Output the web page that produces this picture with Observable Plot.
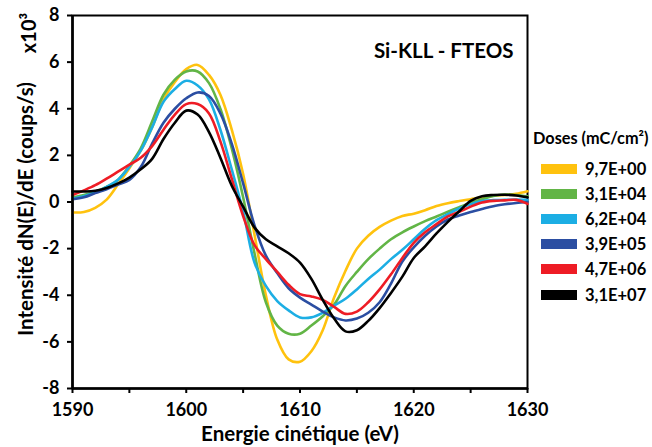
<!DOCTYPE html>
<html>
<head>
<meta charset="utf-8">
<script src="https://cdn.jsdelivr.net/npm/d3@7"></script>
<script src="https://cdn.jsdelivr.net/npm/@observablehq/plot@0.6"></script>
<style>
  html, body { margin: 0; padding: 0; background: #fff; }
  #wrap { position: relative; width: 652px; height: 447px; font-family: Lato, "Open Sans", sans-serif; font-weight: bold; color: #000; }
  #wrap svg { position: absolute; left: 0; top: 0; }
  .rot { position: absolute; white-space: nowrap; transform: translate(-50%, -50%) rotate(-90deg); }
  #ylabel { left: 25px; top: 209px; font-size: 20.5px; }
  #yunit { left: 28px; top: 33px; font-size: 20px; }
  #legend { position: absolute; left: 533px; top: 128px; }
  #legend .title { font-size: 16.3px; margin-bottom: 9px; white-space: nowrap; }
  #legend .item { display: flex; align-items: center; height: 25.2px; margin-left: 8px; font-size: 16.5px; }
  #legend .sw { width: 36px; height: 10px; margin-right: 8px; }
</style>
</head>
<body>
<div id="wrap"><div id="ylabel" class="rot"></div><div id="yunit" class="rot"></div><div id="legend"></div></div>
<script>
const energy = d3.range(1590, 1631, 1);
const doses = ["9,7E+00", "3,1E+04", "6,2E+04", "3,9E+05", "4,7E+06", "3,1E+07"];
const colors = ["#FFC20E", "#62B546", "#1CAEE4", "#2B4EA2", "#EE1C25", "#000000"];
const xTicks = [1590, 1600, 1610, 1620, 1630];
const yTicks = [-8, -6, -4, -2, 0, 2, 4, 6, 8];
const title = "Si-KLL - FTEOS";
const xLabel = "Energie cinétique (eV)";
const yLabel = "Intensité dN(E)/dE (coups/s)";
const yUnit = "x10³";
const legendTitle = "Doses (mC/cm²)";

const s97E00 = [-0.45,-0.43,-0.25,0.1,0.75,1.45,2.2,3.2,4.4,5.15,5.7,5.88,5.45,4.6,3.1,1.2,-1.4,-4.0,-5.9,-6.75,-6.85,-6.4,-5.5,-4.1,-2.95,-2.0,-1.45,-1.07,-0.8,-0.6,-0.5,-0.35,-0.17,-0.05,0.04,0.12,0.2,0.27,0.3,0.35,0.46];
const s31E04 = [0.2,0.3,0.45,0.65,0.95,1.55,2.3,3.45,4.6,5.25,5.6,5.6,5.1,4.0,2.3,0.2,-2.2,-4.3,-5.3,-5.65,-5.65,-5.3,-4.9,-4.4,-3.6,-3.0,-2.45,-2.0,-1.6,-1.3,-1.05,-0.82,-0.62,-0.42,-0.22,-0.03,0.12,0.26,0.32,0.3,0.24];
const s62E04 = [0.15,0.25,0.42,0.65,0.95,1.5,2.2,3.2,4.3,4.85,5.2,5.0,4.4,3.1,1.4,-0.4,-2.6,-3.6,-4.25,-4.65,-4.95,-4.95,-4.75,-4.45,-4.15,-3.75,-3.3,-2.9,-2.45,-2.05,-1.6,-1.15,-0.78,-0.52,-0.28,-0.1,0.04,0.08,0.09,0.1,0.09];
const s39E05 = [0.12,0.2,0.38,0.55,0.75,0.95,1.5,2.5,3.4,4.0,4.45,4.7,4.55,3.8,2.5,0.8,-1.0,-2.3,-3.05,-3.7,-4.1,-4.4,-4.7,-4.95,-5.08,-5.0,-4.75,-4.3,-3.5,-2.55,-1.95,-1.45,-1.05,-0.75,-0.58,-0.43,-0.3,-0.18,-0.1,-0.04,0.0];
const s47E06 = [0.3,0.5,0.72,1.0,1.3,1.6,1.9,2.4,3.1,3.75,4.2,4.2,3.8,2.6,1.0,-0.6,-1.85,-2.45,-3.0,-3.55,-3.95,-4.05,-4.2,-4.5,-4.8,-4.7,-4.3,-3.75,-3.1,-2.4,-1.75,-1.3,-0.95,-0.62,-0.42,-0.2,-0.02,0.05,0.07,0.09,-0.08];
const s31E07 = [0.45,0.45,0.48,0.6,0.8,1.05,1.4,1.85,2.7,3.4,3.92,3.75,3.0,1.9,0.7,-0.2,-1.1,-1.6,-1.9,-2.2,-2.6,-3.3,-4.2,-5.0,-5.55,-5.5,-5.1,-4.55,-3.9,-3.2,-2.4,-1.9,-1.35,-0.85,-0.4,0.05,0.25,0.3,0.31,0.28,0.2];

const seriesValues = [s97E00, s31E04, s62E04, s39E05, s47E06, s31E07];
const rows = [];
seriesValues.forEach((vals, i) => vals.forEach((v, j) => rows.push({dose: doses[i], E: energy[j], v})));

const chart = Plot.plot({
  width: 652,
  height: 447,
  marginLeft: 72,
  marginRight: 125,
  marginTop: 15,
  marginBottom: 59,
  style: {fontFamily: "Lato, 'Open Sans', sans-serif", fontWeight: "bold", fontSize: "18px", color: "#000", background: "transparent", overflow: "visible"},
  x: {domain: [1590, 1630]},
  y: {domain: [-8, 8]},
  color: {domain: doses, range: colors},
  marks: [
    Plot.frame({stroke: "#000", strokeWidth: 2}),
    Plot.axisX({ticks: d3.range(1590, 1631, 5), tickFormat: d => xTicks.includes(d) ? String(d) : "", tickSize: 5, tickPadding: 10, strokeWidth: 2, label: null, fontSize: 18}),
    Plot.axisY({ticks: yTicks, tickSize: 5, tickPadding: 8, strokeWidth: 2, label: null, fontSize: 18, tickFormat: d => String(d)}),
    Plot.line(rows, {x: "E", y: "v", z: "dose", stroke: "dose", strokeWidth: 2.6, curve: "catmull-rom"}),
    Plot.ruleX([1590], {stroke: "#000", strokeWidth: 2.6}),
    Plot.ruleY([-8], {stroke: "#000", strokeWidth: 2.6}),
    Plot.text([title], {frameAnchor: "top-right", textAnchor: "end", dx: -14, dy: 28, fontSize: 20.5, fontWeight: "bold"}),
    Plot.text([xLabel], {frameAnchor: "bottom", dy: 52, fontSize: 20.5, fontWeight: "bold"})
  ]
});
const wrap = document.getElementById("wrap");
wrap.insertBefore(chart, wrap.firstChild);
document.getElementById("ylabel").textContent = yLabel;
document.getElementById("yunit").textContent = yUnit;

const legend = document.getElementById("legend");
legend.innerHTML = `<div class="title">${legendTitle}</div>` +
  doses.map((d, i) => `<div class="item"><div class="sw" style="background:${colors[i]}"></div><span>${d}</span></div>`).join("");
</script>
</body>
</html>
